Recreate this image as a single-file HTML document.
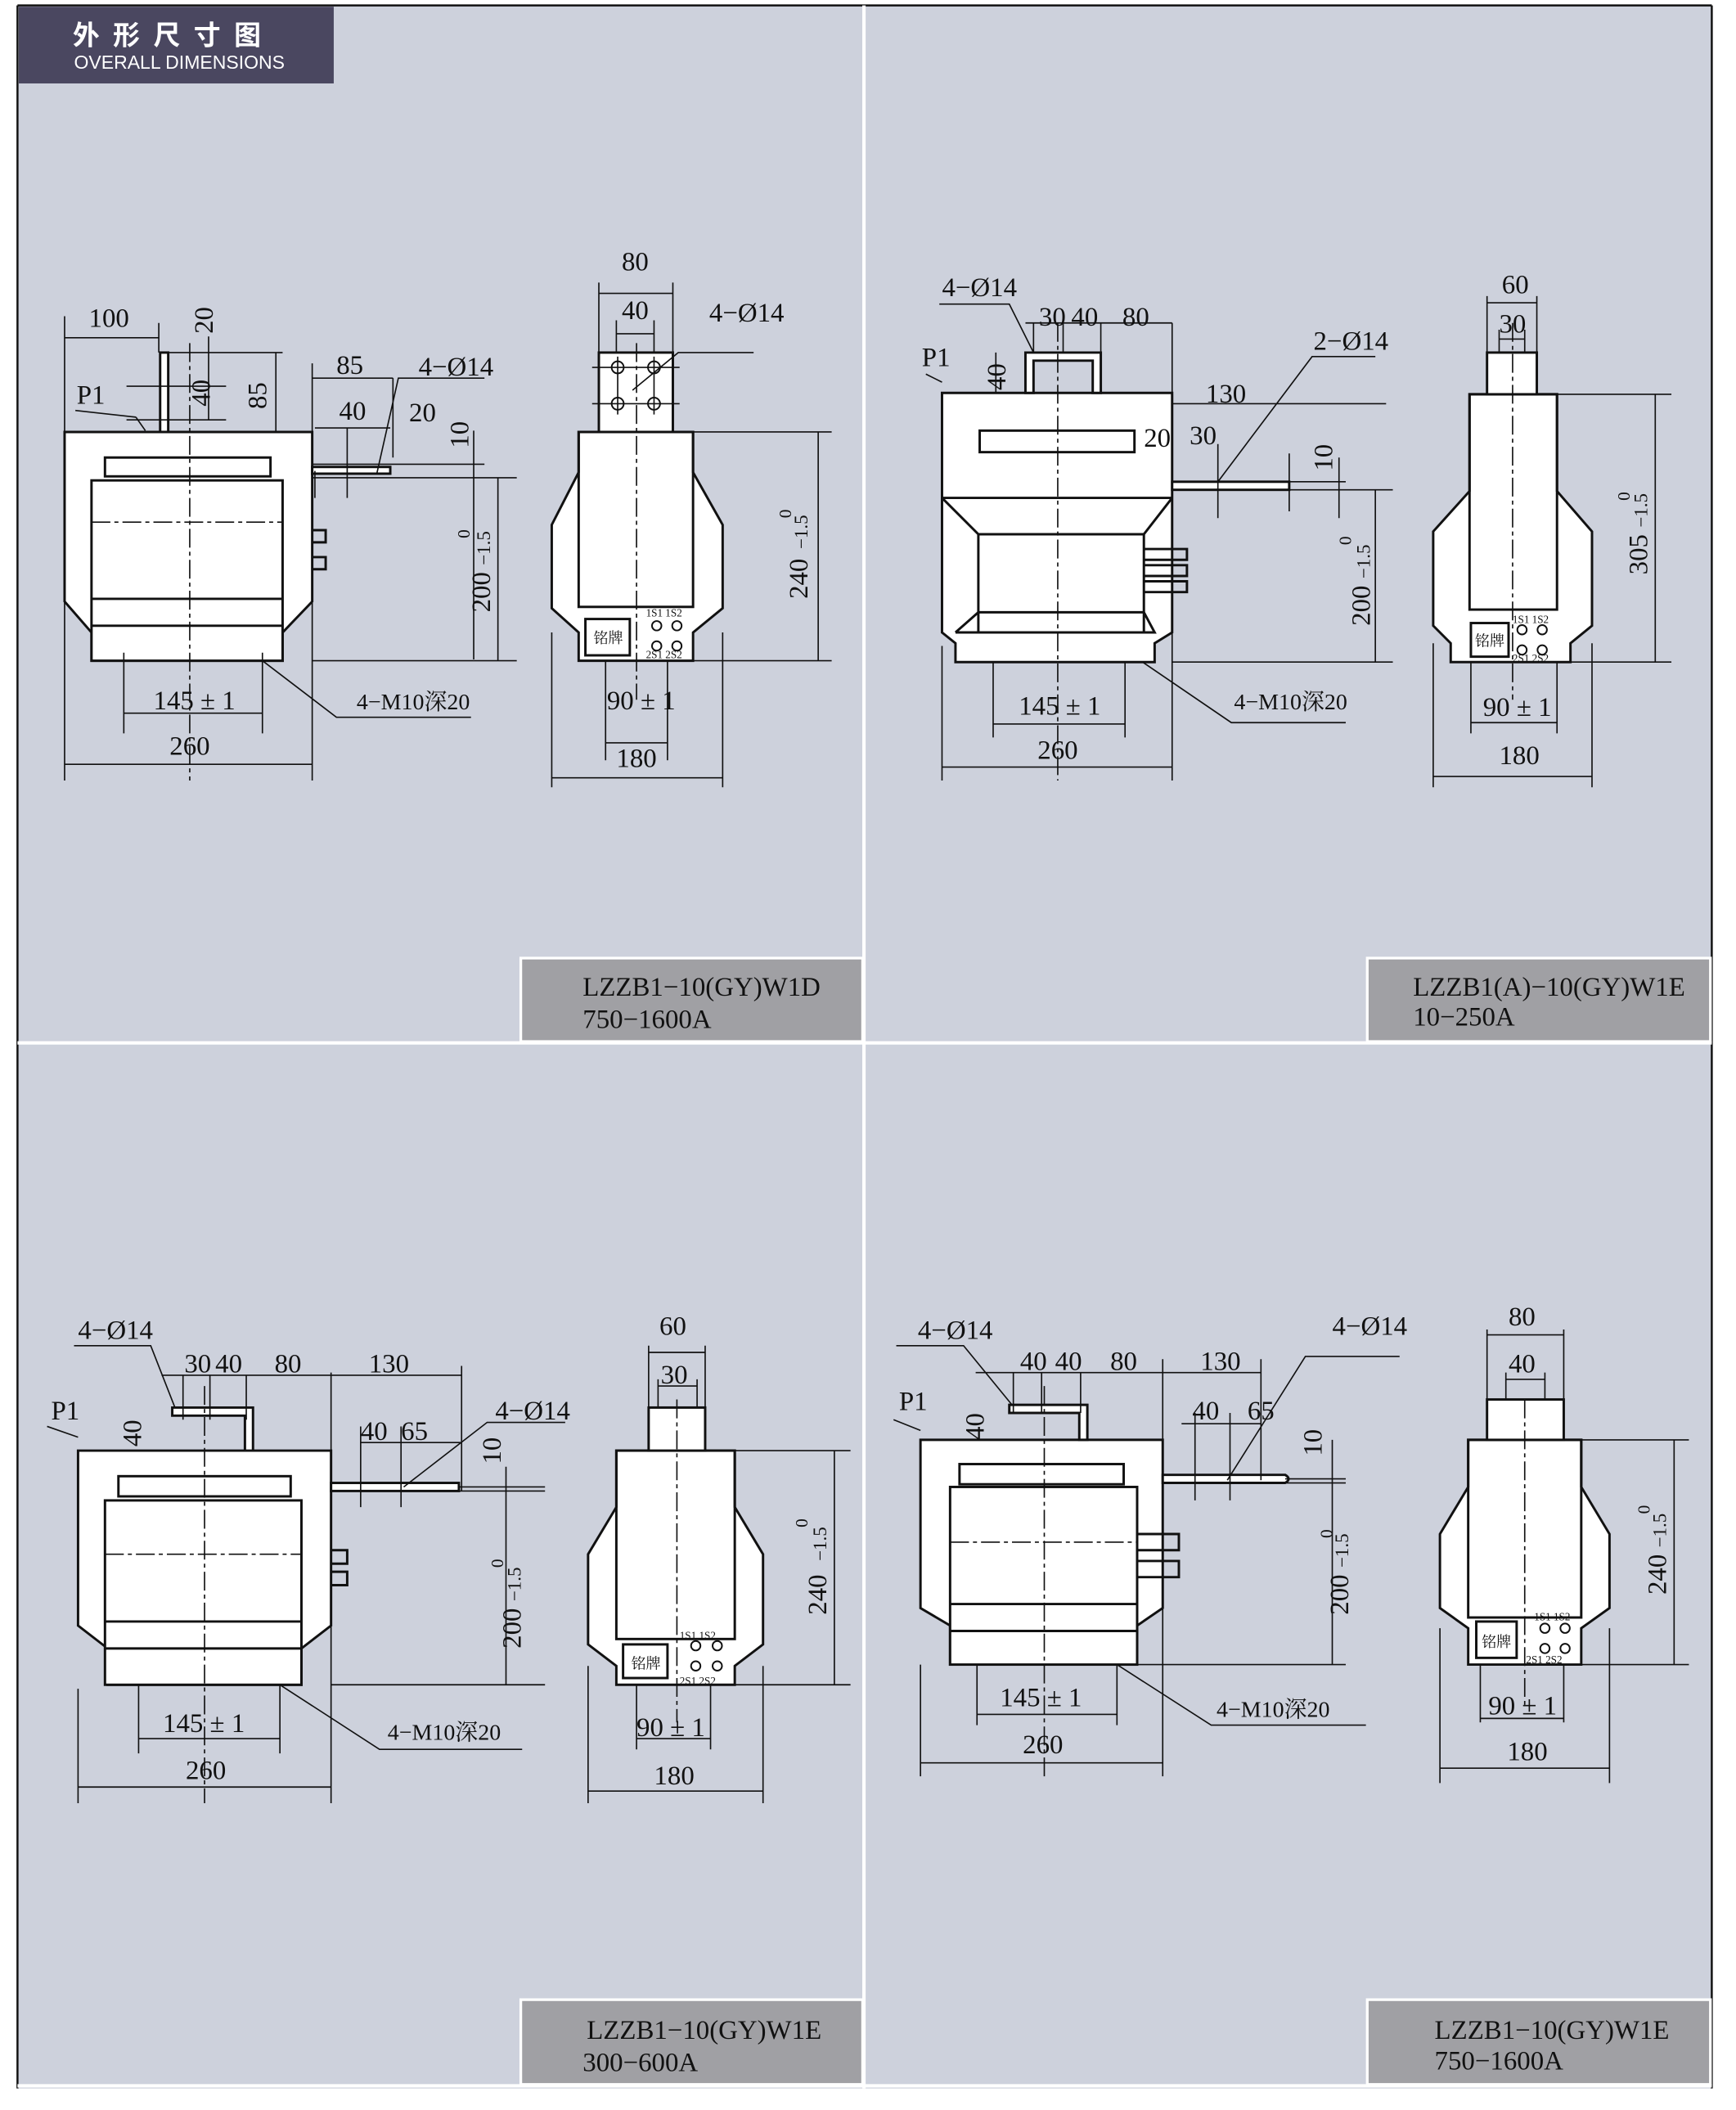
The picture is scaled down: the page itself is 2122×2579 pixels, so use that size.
<!DOCTYPE html>
<html><head><meta charset="utf-8"><style>
html,body{margin:0;padding:0;background:#fff}
svg{display:block}
text{font-family:"Liberation Serif","Noto Serif CJK SC",serif;fill:#111}
</style></head><body>
<svg width="2122" height="2579" viewBox="0 0 1290 1568" preserveAspectRatio="none" xmlns="http://www.w3.org/2000/svg">
<rect x="0" y="0" width="1290" height="1568" fill="#fff"/>
<rect x="13" y="4" width="1259" height="1548" fill="#cdd1dc"/>
<line x1="13" y1="4" x2="1272" y2="4" stroke="#111" stroke-width="1.5"/>
<line x1="13" y1="4" x2="13" y2="1552" stroke="#111" stroke-width="1.5"/>
<line x1="1272" y1="4" x2="1272" y2="1552" stroke="#111" stroke-width="1.5"/>
<line x1="642" y1="4" x2="642" y2="1552" stroke="#fff" stroke-width="2.5"/>
<line x1="13" y1="775" x2="1272" y2="775" stroke="#fff" stroke-width="2.5"/>
<line x1="13" y1="1550" x2="1272" y2="1550" stroke="#fff" stroke-width="2.5"/>
<!-- header -->
<rect x="14" y="5" width="234" height="57" fill="#4a4760"/>
<text x="54" y="33" style="font-family:'Liberation Sans','Noto Sans CJK SC',sans-serif;font-weight:bold;fill:#fff;font-size:20px;letter-spacing:10px">外形尺寸图</text>
<text x="55" y="51" style="font-family:'Liberation Sans',sans-serif;fill:#fff;font-size:14px">OVERALL DIMENSIONS</text>
<!-- label boxes -->
<g stroke="#fff" stroke-width="2" fill="#a0a0a4">
<rect x="387" y="712" width="254" height="62"/><rect x="1016" y="712" width="255" height="62"/>
<rect x="387" y="1486" width="254" height="63"/><rect x="1016" y="1486" width="255" height="63"/>
</g>
<g font-size="20">
<text x="433" y="740">LZZB1−10(GY)W1D</text><text x="433" y="764">750−1600A</text>
<text x="1050" y="740">LZZB1(A)−10(GY)W1E</text><text x="1050" y="762">10−250A</text>
<text x="436" y="1515">LZZB1−10(GY)W1E</text><text x="433" y="1539">300−600A</text>
<text x="1066" y="1515">LZZB1−10(GY)W1E</text><text x="1066" y="1538">750−1600A</text>
</g>

<g fill="none" stroke="#111" stroke-width="1.8">
<!-- ===== PANEL 1 front ===== -->
<path d="M48 321 H232 V447 L210 470 V491 H68 V470 L48 447 Z" fill="#fff"/>
<rect x="68" y="357" width="142" height="134" fill="#fff"/>
<line x1="68" y1="445" x2="210" y2="445"/><line x1="68" y1="465" x2="210" y2="465"/>
<rect x="78" y="340" width="123" height="14"/>
<rect x="119" y="262" width="6" height="59" fill="#fff"/>
<rect x="232" y="347" width="58" height="5" fill="#fff"/>
<path d="M232 394 H242 V403 H232 M232 414 H242 V423 H232"/>
</g>
<g fill="none" stroke="#111" stroke-width="1">
<path d="M141 255 V580" stroke-dasharray="14 3 3 3"/>
<path d="M68 388 H210" stroke-dasharray="14 3 3 3"/>
<path d="M48 235 V580 M232 270 V580 M48 568 H232 M92 485 V545 M195 485 V545 M92 530 H195"/>
<path d="M48 251 H118 M118 240 V262 M125 262 H210 M94 287 H168 M94 312 H168 M155 250 V312 M205 262 V321"/>
<path d="M232 281 H292 M292 281 V340 M234 318 H290 M234 350 V370 M258 318 V370 M352 320 V380 M232 355 H384 M232 345 H360 M352 373 V490 M232 491 H384 M370 355 V491"/>
<path d="M101 310 L56 305 M101 310 L108 320 M280 352 L296 281 H360 M195 491 L250 533 H350"/>
</g>
<g fill="none" stroke="#111" stroke-width="1.8">
<path d="M430 321 H515 V351 L537 390 V452 L515 470 V491 H430 V470 L410 452 V390 L430 351 Z" fill="#fff"/>
<rect x="430" y="321" width="85" height="130"/>
<rect x="445" y="262" width="55" height="59" fill="#fff"/>
<rect x="435" y="460" width="33" height="27"/>
<g stroke-width="1.2"><circle cx="459" cy="273" r="4.5"/><circle cx="486" cy="273" r="4.5"/><circle cx="459" cy="300" r="4.5"/><circle cx="486" cy="300" r="4.5"/>
<circle cx="488" cy="465" r="3.5"/><circle cx="503" cy="465" r="3.5"/><circle cx="488" cy="480" r="3.5"/><circle cx="503" cy="480" r="3.5"/></g>
</g>
<g fill="none" stroke="#111" stroke-width="1">
<path d="M473 255 V520" stroke-dasharray="14 3 3 3"/>
<path d="M445 210 V262 M500 210 V262 M445 218 H500 M458 238 V262 M486 238 V262 M458 248 H486 M470 290 L504 262 H560 M515 321 H618 M515 491 H618 M608 321 V491 M450 491 V565 M496 491 V565 M450 552 H496 M410 470 V585 M537 470 V585 M410 578 H537 M440 273 H505 M440 300 H505 M459 265 V308 M486 265 V308"/>
</g>
<g font-size="20">
<text x="66" y="243">100</text><text x="57" y="300">P1</text><text x="250" y="278">85</text><text x="311" y="279">4−Ø14</text>
<text x="252" y="312">40</text><text x="304" y="313">20</text>
<text x="114" y="527">145 ± 1</text><text x="265" y="527" font-size="17">4−M10深20</text><text x="126" y="561">260</text>
<text x="462" y="201">80</text><text x="462" y="237">40</text><text x="527" y="239">4−Ø14</text>
<text x="451" y="527">90 ± 1</text><text x="458" y="570">180</text>
<text transform="rotate(-90 158 248)" x="158" y="248">20</text>
<text transform="rotate(-90 156 302)" x="156" y="302">40</text>
<text transform="rotate(-90 198 304)" x="198" y="304">85</text>
<text transform="rotate(-90 348 333)" x="348" y="333">10</text>
<text transform="rotate(-90 364 455)" x="364" y="455">200</text>
<text transform="rotate(-90 364 420)" x="364" y="420" font-size="14">−1.5</text>
<text transform="rotate(-90 349 400)" x="349" y="400" font-size="13">0</text>
<text transform="rotate(-90 600 445)" x="600" y="445">240</text>
<text transform="rotate(-90 600 408)" x="600" y="408" font-size="14">−1.5</text>
<text transform="rotate(-90 588 385)" x="588" y="385" font-size="13">0</text>
</g>
<text x="441" y="478" font-size="11">铭牌</text>
<text x="480" y="458" font-size="8">1S1 1S2</text><text x="480" y="489" font-size="8">2S1 2S2</text>

<!-- ===== PANEL 2 ===== -->
<g fill="none" stroke="#111" stroke-width="1.8">
<path d="M700 292 H871 V470 L858 478 V492 H710 V478 L700 470 Z" fill="#fff"/>
<path d="M700 370 L727 397 V470 M871 370 L850 397 V470 M700 370 H871 M727 397 H850 M727 455 H850 M710 470 H858 L850 455 M710 470 L727 455"/>
<rect x="728" y="320" width="115" height="16"/>
<path d="M762 262 H818 V292 H812 V268 H768 V292 H762 Z" fill="#fff"/>
<rect x="871" y="358" width="87" height="6" fill="#fff"/>
<path d="M850 408 H882 V416 H850 M850 420 H882 V428 H850 M850 432 H882 V440 H850"/>
<path d="M1092 293 H1157 V365 L1183 395 V465 L1167 478 V492 H1078 V478 L1065 465 V395 L1092 365 Z" fill="#fff"/>
<rect x="1092" y="293" width="65" height="160"/>
<rect x="1105" y="262" width="37" height="31" fill="#fff"/>
<rect x="1093" y="463" width="28" height="25"/>
<g stroke-width="1.2"><circle cx="1131" cy="468" r="3.5"/><circle cx="1146" cy="468" r="3.5"/><circle cx="1131" cy="483" r="3.5"/><circle cx="1146" cy="483" r="3.5"/></g>
</g>
<g fill="none" stroke="#111" stroke-width="1">
<path d="M786 240 V580 M1124 240 V520" stroke-dasharray="14 3 3 3"/>
<path d="M700 480 V580 M871 240 V580 M700 570 H871 M738 492 V548 M836 492 V548 M738 538 H836 M698 226 H750 L768 262 M762 240 H871 M768 240 V262 M790 240 V262 M818 240 V262 M871 300 H1030 M871 358 H1000 M871 364 H1035 M958 337 V380 M995 340 V385 M1022 364 V492 M871 492 H1035 M905 330 V385 M905 358 L975 265 H1022 M849 492 L915 537 H1000 M700 284 L688 278 M740 262 V292"/>
<path d="M1105 220 V262 M1142 220 V262 M1105 225 H1142 M1114 245 V262 M1133 245 V262 M1114 252 H1133 M1157 293 H1242 M1157 492 H1242 M1230 293 V492 M1093 492 V545 M1157 492 V545 M1093 537 H1157 M1065 478 V585 M1183 478 V585 M1065 577 H1183"/>
</g>
<g font-size="20">
<text x="700" y="220">4−Ø14</text><text x="685" y="272">P1</text><text x="772" y="242">30</text><text x="796" y="242">40</text><text x="834" y="242">80</text>
<text x="896" y="299">130</text><text x="976" y="260">2−Ø14</text><text x="850" y="332">20</text><text x="884" y="330">30</text>
<text x="757" y="531">145 ± 1</text><text x="917" y="527" font-size="17">4−M10深20</text><text x="771" y="564">260</text>
<text x="1116" y="218">60</text><text x="1114" y="247">30</text><text x="1102" y="532">90 ± 1</text><text x="1114" y="568">180</text>
<text transform="rotate(-90 747 290)" x="747" y="290">40</text>
<text transform="rotate(-90 990 350)" x="990" y="350">10</text>
<text transform="rotate(-90 1018 465)" x="1018" y="465">200</text>
<text transform="rotate(-90 1018 430)" x="1018" y="430" font-size="14">−1.5</text>
<text transform="rotate(-90 1004 405)" x="1004" y="405" font-size="13">0</text>
<text transform="rotate(-90 1224 427)" x="1224" y="427">305</text>
<text transform="rotate(-90 1224 392)" x="1224" y="392" font-size="14">−1.5</text>
<text transform="rotate(-90 1211 372)" x="1211" y="372" font-size="13">0</text>
</g>
<text x="1096" y="480" font-size="11">铭牌</text>
<text x="1124" y="463" font-size="8">1S1 1S2</text><text x="1124" y="492" font-size="8">2S1 2S2</text>

<!-- ===== PANEL 3 ===== -->
<g fill="none" stroke="#111" stroke-width="1.8">
<path d="M58 1078 H246 V1208 L224 1225 V1252 H80 V1225 L58 1208 Z" fill="#fff"/>
<rect x="78" y="1115" width="146" height="137" fill="#fff"/>
<line x1="78" y1="1205" x2="224" y2="1205"/><line x1="78" y1="1225" x2="224" y2="1225"/>
<rect x="88" y="1097" width="128" height="15"/>
<path d="M128 1046 H188 V1078 H182 V1052 H128 Z" fill="#fff"/>
<rect x="246" y="1102" width="95" height="6" fill="#fff"/>
<path d="M246 1152 H258 V1162 H246 M246 1168 H258 V1178 H246"/>
<path d="M458 1078 H546 V1120 L567 1155 V1222 L546 1238 V1252 H458 V1238 L437 1222 V1155 L458 1120 Z" fill="#fff"/>
<rect x="458" y="1078" width="88" height="140"/>
<rect x="482" y="1046" width="42" height="32" fill="#fff"/>
<rect x="463" y="1222" width="33" height="25"/>
<g stroke-width="1.2"><circle cx="517" cy="1223" r="3.5"/><circle cx="533" cy="1223" r="3.5"/><circle cx="517" cy="1238" r="3.5"/><circle cx="533" cy="1238" r="3.5"/></g>
</g>
<g fill="none" stroke="#111" stroke-width="1">
<path d="M152 1030 V1340 M503 1040 V1280" stroke-dasharray="14 3 3 3"/>
<path d="M78 1155 H224" stroke-dasharray="14 3 3 3"/>
<path d="M58 1255 V1340 M246 1020 V1340 M58 1328 H246 M103 1252 V1303 M208 1252 V1303 M103 1292 H208 M55 1000 H112 L130 1046 M120 1022 H343 M136 1022 V1055 M156 1022 V1055 M183 1022 V1055 M343 1015 V1108 M268 1072 H343 M268 1060 V1120 M298 1060 V1120 M300 1105 L362 1057 H420 M341 1105 H405 M246 1108 H405 M376 1090 V1252 M246 1252 H405 M208 1252 L282 1300 H388 M58 1068 L35 1060"/>
<path d="M482 1000 V1046 M524 1000 V1046 M482 1005 H524 M489 1025 V1046 M518 1025 V1046 M489 1030 H518 M546 1078 H632 M546 1252 H632 M620 1078 V1252 M473 1252 V1300 M528 1252 V1300 M473 1292 H528 M437 1238 V1340 M567 1238 V1340 M437 1331 H567"/>
</g>
<g font-size="20">
<text x="58" y="995">4−Ø14</text><text x="38" y="1055">P1</text><text x="137" y="1020">30</text><text x="160" y="1020">40</text><text x="204" y="1020">80</text>
<text x="274" y="1020">130</text><text x="268" y="1070">40</text><text x="298" y="1070">65</text><text x="368" y="1055">4−Ø14</text>
<text x="121" y="1287">145 ± 1</text><text x="288" y="1293" font-size="17">4−M10深20</text><text x="138" y="1322">260</text>
<text x="490" y="992">60</text><text x="491" y="1028">30</text><text x="473" y="1290">90 ± 1</text><text x="486" y="1326">180</text>
<text transform="rotate(-90 105 1075)" x="105" y="1075">40</text>
<text transform="rotate(-90 372 1088)" x="372" y="1088">10</text>
<text transform="rotate(-90 387 1225)" x="387" y="1225">200</text>
<text transform="rotate(-90 387 1190)" x="387" y="1190" font-size="14">−1.5</text>
<text transform="rotate(-90 374 1165)" x="374" y="1165" font-size="13">0</text>
<text transform="rotate(-90 614 1200)" x="614" y="1200">240</text>
<text transform="rotate(-90 614 1160)" x="614" y="1160" font-size="14">−1.5</text>
<text transform="rotate(-90 600 1135)" x="600" y="1135" font-size="13">0</text>
</g>
<text x="469" y="1240" font-size="11">铭牌</text>
<text x="505" y="1218" font-size="8">1S1 1S2</text><text x="505" y="1252" font-size="8">2S1 2S2</text>

<!-- ===== PANEL 4 ===== -->
<g fill="none" stroke="#111" stroke-width="1.8">
<path d="M684 1070 H864 V1195 L845 1208 V1237 H706 V1208 L684 1195 Z" fill="#fff"/>
<rect x="706" y="1105" width="139" height="132" fill="#fff"/>
<line x1="706" y1="1192" x2="845" y2="1192"/><line x1="706" y1="1212" x2="845" y2="1212"/>
<rect x="713" y="1088" width="122" height="15"/>
<path d="M750 1044 H808 V1070 H802 V1050 H750 Z" fill="#fff"/>
<path d="M864 1096 H955 Q960 1099 955 1102 H864 Z" fill="#fff"/>
<path d="M845 1140 H876 V1152 H845 M845 1160 H876 V1172 H845"/>
<path d="M1091 1070 H1175 V1105 L1196 1140 V1195 L1175 1210 V1237 H1091 V1210 L1070 1195 V1140 L1091 1105 Z" fill="#fff"/>
<rect x="1091" y="1070" width="84" height="132"/>
<rect x="1105" y="1040" width="57" height="30" fill="#fff"/>
<rect x="1097" y="1205" width="30" height="27"/>
<g stroke-width="1.2"><circle cx="1148" cy="1210" r="3.5"/><circle cx="1163" cy="1210" r="3.5"/><circle cx="1148" cy="1225" r="3.5"/><circle cx="1163" cy="1225" r="3.5"/></g>
</g>
<g fill="none" stroke="#111" stroke-width="1">
<path d="M776 1030 V1320 M1133 1040 V1270" stroke-dasharray="14 3 3 3"/>
<path d="M706 1146 H845" stroke-dasharray="14 3 3 3"/>
<path d="M684 1237 V1320 M864 1010 V1320 M684 1310 H864 M726 1237 V1282 M830 1237 V1282 M726 1274 H830 M666 1000 H716 L752 1044 M725 1020 H937 M753 1020 V1050 M774 1020 V1050 M803 1020 V1050 M937 1010 V1100 M878 1058 H937 M888 1050 V1115 M914 1050 V1115 M912 1100 L970 1008 H1040 M955 1099 H1000 M864 1102 H1000 M990 1070 V1237 M845 1237 H1000 M830 1237 L900 1282 H1015 M684 1063 L664 1055"/>
<path d="M1105 988 V1040 M1162 988 V1040 M1105 992 H1162 M1119 1020 V1040 M1148 1020 V1040 M1119 1025 H1148 M1175 1070 H1255 M1175 1237 H1255 M1244 1070 V1237 M1100 1237 V1280 M1162 1237 V1280 M1100 1277 H1162 M1070 1210 V1325 M1196 1210 V1325 M1070 1314 H1196"/>
</g>
<g font-size="20">
<text x="682" y="995">4−Ø14</text><text x="668" y="1048">P1</text><text x="758" y="1018">40</text><text x="784" y="1018">40</text><text x="825" y="1018">80</text>
<text x="892" y="1018">130</text><text x="886" y="1055">40</text><text x="927" y="1055">65</text><text x="990" y="992">4−Ø14</text>
<text x="743" y="1268">145 ± 1</text><text x="904" y="1276" font-size="17">4−M10深20</text><text x="760" y="1303">260</text>
<text x="1121" y="985">80</text><text x="1121" y="1020">40</text><text x="1106" y="1274">90 ± 1</text><text x="1120" y="1308">180</text>
<text transform="rotate(-90 731 1070)" x="731" y="1070">40</text>
<text transform="rotate(-90 982 1082)" x="982" y="1082">10</text>
<text transform="rotate(-90 1002 1200)" x="1002" y="1200">200</text>
<text transform="rotate(-90 1002 1165)" x="1002" y="1165" font-size="14">−1.5</text>
<text transform="rotate(-90 990 1143)" x="990" y="1143" font-size="13">0</text>
<text transform="rotate(-90 1238 1185)" x="1238" y="1185">240</text>
<text transform="rotate(-90 1238 1150)" x="1238" y="1150" font-size="14">−1.5</text>
<text transform="rotate(-90 1226 1125)" x="1226" y="1125" font-size="13">0</text>
</g>
<text x="1101" y="1224" font-size="11">铭牌</text>
<text x="1140" y="1204" font-size="8">1S1 1S2</text><text x="1134" y="1236" font-size="8">2S1 2S2</text>
</svg>
</body></html>
